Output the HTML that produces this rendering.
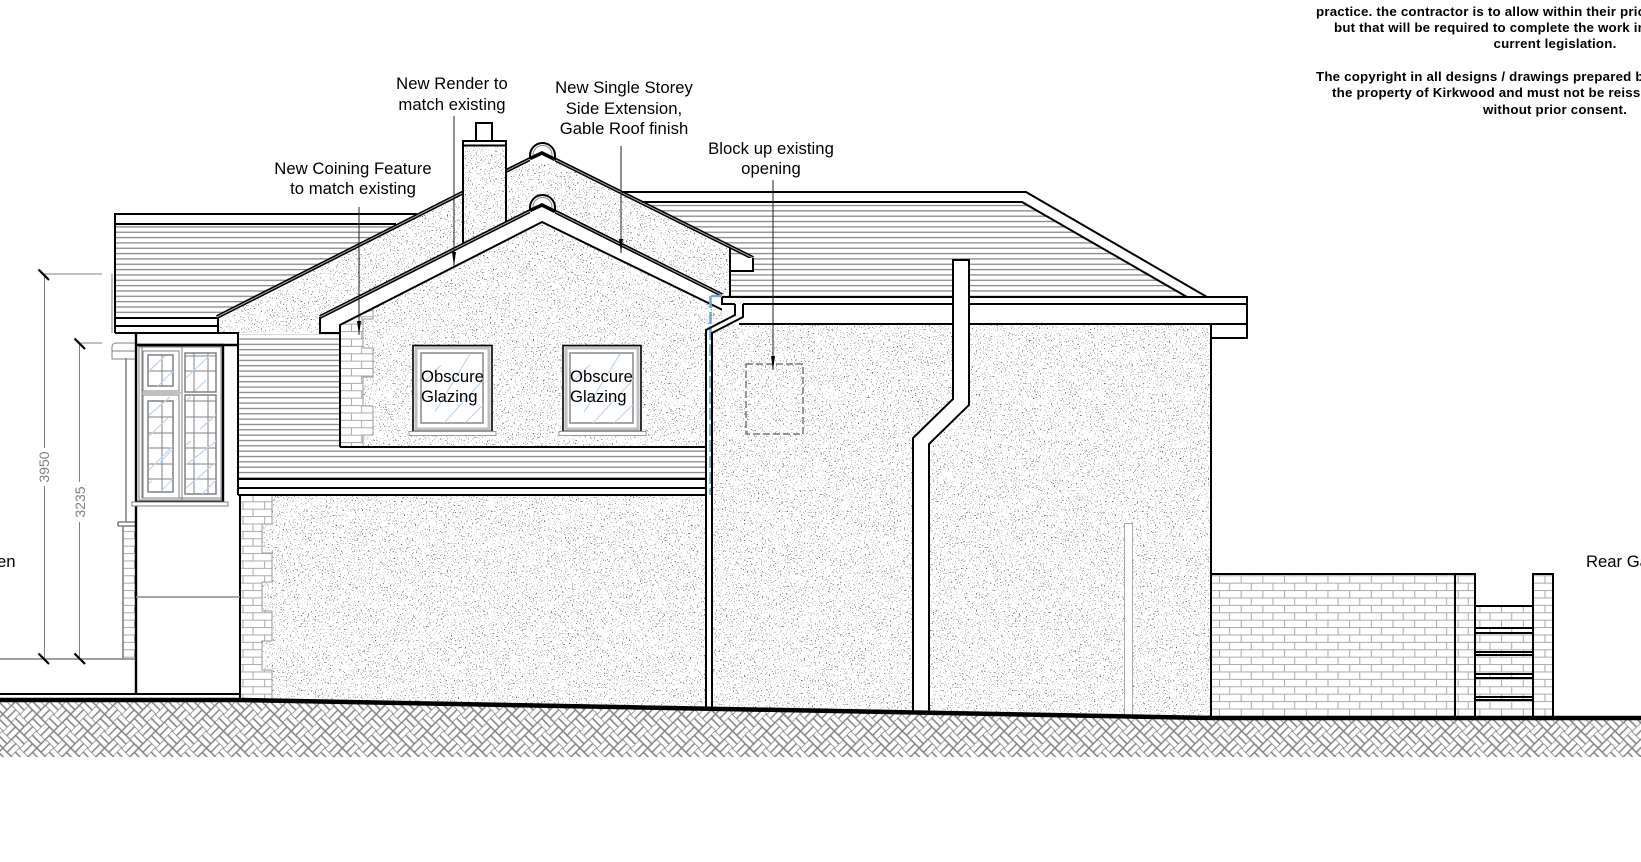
<!DOCTYPE html>
<html><head><meta charset="utf-8"><style>
html,body{margin:0;padding:0;background:#fff;width:1641px;height:862px;overflow:hidden}
svg{display:block}
text{font-family:"Liberation Sans",Arial,sans-serif;fill:#000}
.l{font-size:16.67px;text-anchor:middle;letter-spacing:.05px}
.o{font-size:16.67px}
.b{font-size:13.3px;font-weight:bold;letter-spacing:.2px}
.d{font-size:14px;fill:#808080;text-anchor:middle}
.k{fill:none;stroke:#000;stroke-width:2}
.g{fill:none;stroke:#808080;stroke-width:1}
.gl{fill:none;stroke:#a8a8a8;stroke-width:1}
.bl{fill:none;stroke:#bcd6f0;stroke-width:1.2}
</style></head><body>
<svg width="1641" height="862" viewBox="0 0 1641 862" xmlns="http://www.w3.org/2000/svg">
<defs>
<filter id="st" filterUnits="userSpaceOnUse" x="0" y="0" width="1641" height="862" color-interpolation-filters="sRGB">
<feTurbulence type="fractalNoise" baseFrequency="0.72" numOctaves="2" seed="7"/>
<feColorMatrix type="matrix" values="0 0 0 0 .42  0 0 0 0 .42  0 0 0 0 .42  24 0 0 0 -15.7"/>
</filter>
<pattern id="hatch" width="24" height="24" patternUnits="userSpaceOnUse" patternTransform="rotate(45 0 700)">
<rect width="24" height="24" fill="#fff"/>
<path d="M0 0H12M0 6H12M0 12H12M12 12H24M12 18H24M12 24H24M12 0V12M18 0V12M24 0V12M0 12V24M6 12V24M12 12V24" stroke="#808080" stroke-width="1.4" fill="none"/>
</pattern>
<pattern id="brick" x="1240.67" y="582.67" width="21.7" height="14.8" patternUnits="userSpaceOnUse">
<path d="M0 .5H21.7M0 7.9H21.7M10.6 0V7.4M.5 7.4V14.8" stroke="#aaa" stroke-width="1" fill="none"/>
</pattern>
<pattern id="tile" x="0" y="0" width="10" height="5.34" patternUnits="userSpaceOnUse">
<rect y="2" width="10" height="1.2" fill="#808080"/>
</pattern>
<clipPath id="stc">
<polygon points="217,317 542,153 730,248 730,297 722,295 542,205 320,317 320,333 217,333"/>
<polygon points="463,145 506,145 506,223 463,245"/>
<polygon points="542,222 340,325 340,447 706,447 706,330 735,316"/>
<polygon points="712,333 743,317 739,324 1211,324 1211,718 712,708"/>
<polygon points="262,495 706,495 706,708 262,702"/>
</clipPath>
</defs>

<!-- back left roof -->
<rect x="115" y="224" width="310" height="94" fill="url(#tile)"/>
<!-- right roof -->
<polygon points="640,202 1022,202 1187,297 640,297" fill="url(#tile)"/>
<!-- mid roof -->
<rect x="238" y="334" width="102" height="113" fill="url(#tile)"/>
<rect x="238" y="447" width="468" height="32" fill="url(#tile)"/>

<!-- white covers + stipple -->
<polygon points="217,317 542,153 730,248 730,297 722,295 542,205 320,317 320,333 217,333" fill="#fff"/>
<g clip-path="url(#stc)"><rect width="1641" height="862" fill="#fff"/><rect width="1641" height="862" filter="url(#st)"/></g>

<!-- bricks -->
<polygon points="240,495 272,495 272,524 262,524 262,553 272,553 272,582 262,582 262,611 272,611 272,641 262,641 262,670 272,670 272,702 240,700" fill="#fff"/>
<polygon points="240,495 272,495 272,524 262,524 262,553 272,553 272,582 262,582 262,611 272,611 272,641 262,641 262,670 272,670 272,702 240,700" fill="url(#brick)" stroke="#999" stroke-width="1"/>
<polygon points="340,325 363,313 373,310 373,319 363,319 363,348 373,348 373,377 363,377 363,406 373,406 373,435 363,435 363,447 340,447" fill="#fff"/>
<polygon points="340,325 363,313 373,310 373,319 363,319 363,348 373,348 373,377 363,377 363,406 373,406 373,435 363,435 363,447 340,447" fill="url(#brick)" stroke="#999" stroke-width="1"/>
<rect x="1211" y="574" width="342" height="144" fill="url(#brick)"/>
<rect x="1533" y="574" width="108" height="144" fill="#fff"/>
<rect x="1533" y="574" width="20" height="144" fill="url(#brick)"/>
<rect x="1475" y="574" width="58" height="32" fill="#fff"/>
<rect x="123" y="526" width="13" height="133" fill="url(#brick)"/>

<!-- ground hatch -->
<polygon points="0,700 240,700 1211,718 1641,718 1641,757 0,757" fill="url(#hatch)"/>

<!-- back left roof lines -->
<path class="k" d="M115 333V214H417M115 224H396M115 318H217M115 326H217M115 333H238M218 317V333"/>
<!-- far-left grey elements -->
<path class="g" d="M112 274V333M136 343H116A4 4 0 0 0 112 347V359H136M112 351H136" stroke-width="1.5"/>
<path d="M126 358V522M118 522H136M118 526H136M118 522V526M123 526V659M0 659H136" fill="none" stroke="#808080" stroke-width="1.6"/>

<!-- back gable edges -->
<path d="M217 317L463 192.500M506 171L542 153L753 258" fill="none" stroke="#000" stroke-width="4"/>
<path d="M217 317L463 192.500M506 171L542 153L753 258" fill="none" stroke="#aaa" stroke-width="1"/>
<path d="M530 159V155.500A12.5 12.5 0 0 1 555 155.500V160" fill="#fff" stroke="#000" stroke-width="2"/>
<path d="M533 157V155A9.500 9.500 0 0 1 552 155V158" fill="none" stroke="#888" stroke-width="1"/>
<polygon points="530,159 542,153 555,159.500 555,164 530,164" fill="#fff"/>
<path d="M530 158.500L542 153L555 159.500" fill="none" stroke="#000" stroke-width="3.500"/>
<rect x="730" y="258" width="23" height="13" fill="#fff"/>
<path class="k" d="M753 258V271H730M730 248V297"/>

<!-- right roof -->
<path class="k" d="M622 192H1026L1207 297M642 202H1022L1187 297"/>

<!-- chimney -->
<path class="k" d="M476 141V123H492V141M463 245V141H506V222M463 145.500H506"/>

<!-- front gable -->
<polygon points="320,317 542,205 722,295 735,316 542,222 340,325 340,333 320,333" fill="#fff"/>
<path d="M320 317L542 205L722 295" fill="none" stroke="#000" stroke-width="4"/>
<path d="M320 317L542 205L722 295" fill="none" stroke="#aaa" stroke-width="1"/>
<path d="M530 211V207.500A12.5 12.5 0 0 1 555 207.500V212" fill="#fff" stroke="#000" stroke-width="2"/>
<path d="M533 209V207A9.500 9.500 0 0 1 552 207V210" fill="none" stroke="#888" stroke-width="1"/>
<polygon points="530,211 542,205 555,211.500 555,216 530,216" fill="#fff"/>
<path d="M530 210.500L542 205L555 211.500" fill="none" stroke="#000" stroke-width="3.500"/>
<path class="k" d="M320 317V333H340M340 447V325L542 222L735 316M340 447H706"/>

<!-- mid roof lines -->
<path class="k" d="M238 333V495M238 479H706M238 488H706M238 495H706"/>
<path class="k" d="M238 345V333H136"/>

<!-- left porch and window -->
<rect x="136" y="345" width="87" height="157" fill="#fff"/>
<path d="M136 333V694M136 345H238" fill="none" stroke="#000" stroke-width="2.4"/>
<path d="M136 345H223V502H136" fill="none" stroke="#000" stroke-width="2.4"/>
<rect x="132" y="502" width="96" height="4" fill="#fff" stroke="#808080" stroke-width="1"/>
<path class="k" d="M240 495V700"/>
<path d="M136 597H240" stroke="#888" stroke-width="1.6" fill="none"/>
<rect x="139" y="347" width="82" height="153" class="g"/>
<path class="g" d="M182 347V500M142 347V498H221M142 393H181"/>
<rect x="143" y="351" width="36" height="40" class="g"/>
<rect x="143" y="395" width="36" height="103" class="g"/>
<rect x="148" y="355" width="25" height="31" fill="none" stroke="#777" stroke-width="1.4"/>
<rect x="148" y="401" width="25" height="91" fill="none" stroke="#777" stroke-width="1.4"/>
<rect x="185" y="353" width="31" height="39" fill="none" stroke="#777" stroke-width="1.4"/>
<rect x="185" y="395" width="31" height="99" fill="none" stroke="#777" stroke-width="1.4"/>
<path class="g" d="M162 355V386M148 371H173M162 401V492M148 417H173M148 433H173M148 448H173M148 464H173M148 479H173M194 353V392M208 353V392M185 356H216M185 371H216M194 395V494M208 395V494M185 401H216M185 417H216M185 433H216M185 448H216M185 464H216M185 479H216"/>
<path class="bl" d="M149 371L165 356M158 386L173 371M149 415L170 397M149 436L168 418M149 470L173 446M160 462L173 449M149 483L152 481M161 491L173 479M186 378L210 355M195 391L206 380M186 401L191 397M186 465L216 441M200 429L216 415M186 445L191 441M186 488L216 462M202 494L216 480"/>

<!-- windows -->
<rect x="413" y="345.500" width="79" height="86" fill="#fff" stroke="#000" stroke-width="1.6"/>
<rect x="416" y="348" width="73" height="81" fill="none" stroke="#c0c0c0" stroke-width="3"/>
<rect x="421" y="353" width="62" height="70" fill="none" stroke="#808080" stroke-width="1.4"/>
<rect x="409" y="431.500" width="87" height="4" fill="#fff" stroke="#999" stroke-width="1"/>
<path class="bl" d="M424 382L441 365M435 412L470 354M444 423L483 380M465 423L483 405"/>
<rect x="563" y="345.500" width="78" height="86" fill="#fff" stroke="#000" stroke-width="1.6"/>
<rect x="566" y="348" width="72" height="81" fill="none" stroke="#c0c0c0" stroke-width="3"/>
<rect x="570" y="353" width="63" height="70" fill="none" stroke="#808080" stroke-width="1.4"/>
<rect x="559" y="431.500" width="87" height="4" fill="#fff" stroke="#999" stroke-width="1"/>
<path class="bl" d="M572 382L590 365M584 412L620 354M593 423L633 380M614 423L633 405"/>
<text class="o" x="421" y="382">Obscure</text><text class="o" x="421" y="402">Glazing</text>
<text class="o" x="570" y="382">Obscure</text><text class="o" x="570" y="402">Glazing</text>

<!-- eaves -->
<rect x="722" y="297" width="525" height="27" fill="#fff"/>
<rect x="1211" y="324" width="36" height="14" fill="#fff"/>
<path class="k" d="M722 297H1247V338H1211M722 297V304H735M743 304H1247M739 324H1247"/>
<path class="k" d="M1211 324V718"/>

<!-- hopper / thin downpipe -->
<polygon points="735,304 743,304 743,317 712,333 712,708 706,708 706,330 735,315" fill="#fff"/>
<path d="M711 296H722" stroke="#6fa8dc" stroke-width="2.5" fill="none"/>
<path d="M710.500 296V495" stroke="#6fa8dc" stroke-width="2.6" stroke-dasharray="12 4" fill="none"/>
<path class="k" d="M735 304V315L706 330V708M743 304V317L712 333V708"/>

<!-- big downpipe -->
<polygon points="953,260 969,260 969,405 929,444 929,713 913,713 913,438 953,399" fill="#fff"/>
<path class="k" d="M913 713V438L953 399V260H969V405L929 444V713"/>

<!-- dashed opening -->
<rect x="746" y="364" width="57" height="70" fill="none" stroke="#777" stroke-width="1.5" stroke-dasharray="7 3"/>

<!-- thin post -->
<rect x="1124.500" y="523.500" width="8" height="192" fill="#fff" stroke="#aaa" stroke-width="1"/>

<!-- garden wall -->
<path class="k" d="M1211 574H1475V718M1455 574V718M1475 606H1533M1533 718V574H1553V718"/>
<path class="k" d="M1475 628H1533M1475 633H1533M1475 652H1533M1475 655H1533M1475 674H1533M1475 678H1533M1475 697H1533M1475 700H1533" stroke-width="1.6"/>

<!-- ground lines -->
<path d="M0 694H240" stroke="#000" stroke-width="2" fill="none"/>
<path d="M0 700H240L1211 718H1641" stroke="#000" stroke-width="4.5" fill="none"/>

<!-- dimensions -->
<path class="g" d="M44.500 274V448M44.500 486V659M79.500 343V482M79.500 522V659M44 274H102M79 343H102M0 659H102"/>
<path d="M38.500 269.500L49 280M74.500 338.500L85 349M38.500 653.500L49 664M74.500 653.500L85 664" stroke="#000" stroke-width="2.2" fill="none"/>
<text class="d" transform="translate(49 467) rotate(-90)">3950</text>
<text class="d" transform="translate(85 502) rotate(-90)">3235</text>

<!-- leaders -->
<path d="M359 207V335M454 116V266M621 146V253M773 180V370" stroke="#222" stroke-width="1" fill="none"/>
<path d="M357 321H361L359 335ZM452 252H456L454 266ZM619 239H623L621 253ZM771 356H775L773 370Z" fill="#000"/>

<!-- labels -->
<text class="l" x="353" y="174">New Coining Feature</text>
<text class="l" x="353" y="194">to match existing</text>
<text class="l" x="452" y="89">New Render to</text>
<text class="l" x="452" y="110">match existing</text>
<text class="l" x="624" y="93">New Single Storey</text>
<text class="l" x="624" y="114">Side Extension,</text>
<text class="l" x="624" y="134">Gable Roof finish</text>
<text class="l" x="771" y="154">Block up existing</text>
<text class="l" x="771" y="174">opening</text>
<text class="o" x="15.500" y="567" text-anchor="end">Front Garden</text>
<text class="o" x="1586" y="567">Rear Garden</text>

<!-- notes -->
<text class="b" x="1316" y="16">practice. the contractor is to allow within their prior</text>
<text class="b" x="1334" y="32">but that will be required to complete the work in</text>
<text class="b" x="1555" y="48" text-anchor="middle">current legislation.</text>
<text class="b" x="1316" y="81">The copyright in all designs / drawings prepared by</text>
<text class="b" x="1332" y="97">the property of Kirkwood and must not be reissued</text>
<text class="b" x="1555" y="114" text-anchor="middle">without prior consent.</text>
</svg>
</body></html>
